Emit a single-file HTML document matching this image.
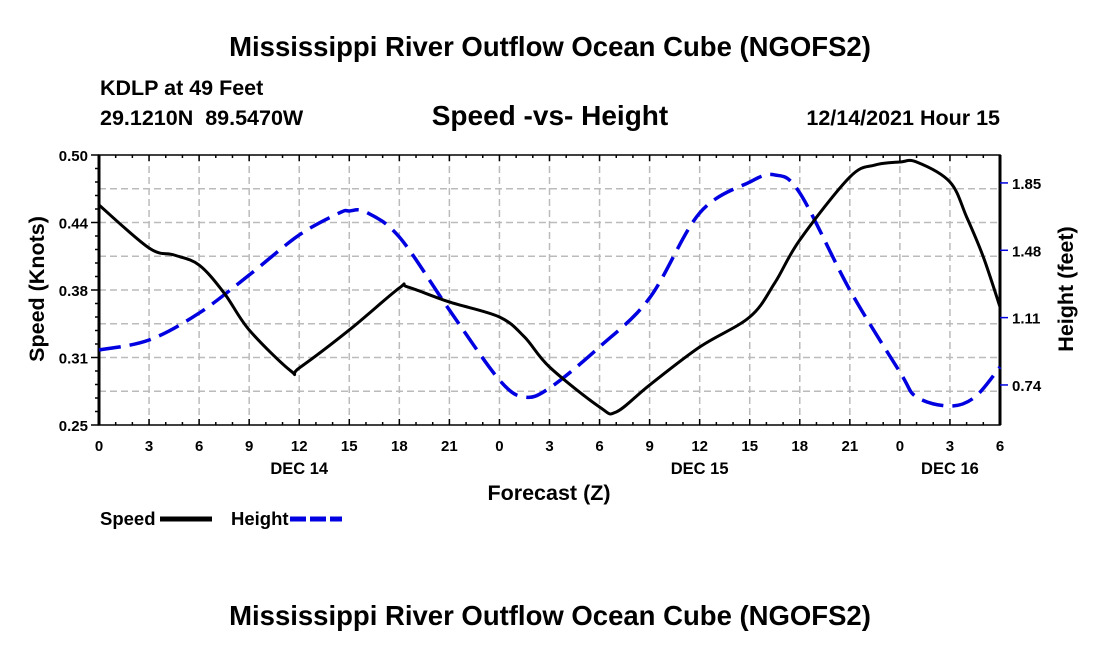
<!DOCTYPE html>
<html><head><meta charset="utf-8"><style>
body{margin:0;background:#fff;width:1100px;height:650px;overflow:hidden}
svg text{font-family:"Liberation Sans",Arial,sans-serif;font-weight:bold;white-space:pre}
</style></head><body>
<svg id="c" width="1100" height="650">
<text x="550" y="56" font-size="27.5" text-anchor="middle">Mississippi River Outflow Ocean Cube (NGOFS2)</text>
<text x="100" y="95" font-size="21.5">KDLP at 49 Feet</text>
<text x="100" y="125" font-size="21.5" xml:space="preserve">29.1210N  89.5470W</text>
<text x="550" y="125" font-size="28" text-anchor="middle">Speed -vs- Height</text>
<text x="1000" y="125" font-size="21.5" text-anchor="end">12/14/2021 Hour 15</text>
<g id="grid"></g>
<g id="axes"></g>
<g id="series"></g>
<text x="549" y="500" font-size="21.5" text-anchor="middle">Forecast (Z)</text>
<text transform="translate(44,289) rotate(-90)" font-size="21.5" text-anchor="middle">Speed (Knots)</text>
<text transform="translate(1073,289) rotate(-90)" font-size="21.5" text-anchor="middle">Height (feet)</text>
<g>
<text x="100" y="525" font-size="18.5">Speed</text>
<line x1="160" y1="519" x2="212" y2="519" stroke="#000" stroke-width="5"/>
<text x="231" y="525" font-size="18.5">Height</text>
<line x1="290" y1="519" x2="342" y2="519" stroke="#0000e0" stroke-width="5" stroke-dasharray="16,4"/>
</g>
<text x="550" y="625" font-size="27.5" text-anchor="middle">Mississippi River Outflow Ocean Cube (NGOFS2)</text>
</svg>
<script>
const speedHours=[0,3,4.5,6,7.5,9,11.5,12,15,18,18.5,21,24,25.5,27,30,31,33,36,39,40.5,42,45,46.5,48,49,51,52,53,54];
const speedVals=[0.4537,0.4139,0.4074,0.3981,0.3722,0.338,0.300,0.3028,0.338,0.3769,0.3778,0.3639,0.35,0.3315,0.3037,0.2667,0.262,0.287,0.3222,0.35,0.3815,0.4213,0.4796,0.4907,0.4935,0.4935,0.475,0.4426,0.4056,0.3593];
const heightHours=[0,3,6,9,12,14.4,15,16,18,21,24,25.5,27,30,33,36,39,40.5,42,45,48,49,51,52.5,54];
const heightVals=[0.932,0.987,1.135,1.344,1.564,1.685,1.696,1.69,1.553,1.152,0.767,0.674,0.723,0.949,1.218,1.685,1.855,1.894,1.795,1.262,0.811,0.674,0.624,0.674,0.839];
const xTickLabels=["0","3","6","9","12","15","18","21","0","3","6","9","12","15","18","21","0","3","6"];
const dayLabels=["DEC 14","DEC 15","DEC 16"];
const dayHours=[12,36,51];
const leftTicks=["0.25","0.31","0.38","0.44","0.50"];
const rightTicks=["0.74","1.11","1.48","1.85"];
const L=99,R=1000,T=155,B=425;
const sx=h=>L+h*(R-L)/54;
const sy=v=>B-(v-0.25)*(B-T)/0.25;
const hy=v=>B-(v-0.52)*182;
const NS="http://www.w3.org/2000/svg";
function mk(t,a,p){const e=document.createElementNS(NS,t);for(const k in a)e.setAttribute(k,a[k]);p.appendChild(e);return e;}
const grid=document.getElementById('grid'),axes=document.getElementById('axes'),ser=document.getElementById('series');
for(let i=1;i<18;i++){const g=mk('line',{x1:sx(i*3),x2:sx(i*3),y1:T,y2:B,stroke:'#bbb','stroke-width':1.5,'stroke-dasharray':'7,4'},grid);

}
for(let i=1;i<8;i++){const v=0.25+i*0.03125;const g=mk('line',{x1:L,x2:R,y1:sy(v),y2:sy(v),stroke:'#bbb','stroke-width':1.5,'stroke-dasharray':'7,4'},grid);

}
const fr=mk('rect',{x:L,y:T,width:R-L,height:B-T,fill:'none',stroke:'#000','stroke-width':1.5},axes);


mk('line',{x1:L,x2:L,y1:T,y2:B,stroke:'#000','stroke-width':3},axes);
mk('line',{x1:R,x2:R,y1:T,y2:B,stroke:'#000','stroke-width':3},axes);
for(let h=0;h<=54;h++){const len=h%3==0?6:3;
mk('line',{x1:sx(h),x2:sx(h),y1:B,y2:B-len,stroke:'#000','stroke-width':1.5},axes);
mk('line',{x1:sx(h),x2:sx(h),y1:T,y2:T+len,stroke:'#000','stroke-width':1.5},axes);}
xTickLabels.forEach((s,i)=>{const t=mk('text',{x:sx(i*3),y:451,'font-size':15,'text-anchor':'middle'},axes);t.textContent=s;

});
dayLabels.forEach((s,i)=>{const t=mk('text',{x:sx(dayHours[i]),y:474,'font-size':16.5,'text-anchor':'middle'},axes);t.textContent=s;

});
for(let i=0;i<=20;i++){const v=0.25+i*0.0125;mk('line',{x1:L-(i%5==0?8:4),x2:L,y1:sy(v),y2:sy(v),stroke:'#000','stroke-width':1.5},axes);}
leftTicks.forEach((s,i)=>{const t=mk('text',{x:88,y:sy(0.25+i*0.0625)+6,'font-size':15,'text-anchor':'end'},axes);t.textContent=s;

});
rightTicks.forEach(s=>{const v=parseFloat(s);mk('line',{x1:R,x2:R+8,y1:hy(v),y2:hy(v),stroke:'#0000e0','stroke-width':1.5},axes);
const t=mk('text',{x:1012,y:hy(v)+6,'font-size':15},axes);t.textContent=s;

});
function path(xs,ys){const p=xs.map((x,i)=>[x,ys[i]]);let d='M'+p[0][0]+','+p[0][1];
for(let i=0;i<p.length-1;i++){const p0=p[i-1]||p[i],p1=p[i],p2=p[i+1],p3=p[i+2]||p2;
const c1=[p1[0]+(p2[0]-p0[0])/6,p1[1]+(p2[1]-p0[1])/6],c2=[p2[0]-(p3[0]-p1[0])/6,p2[1]-(p3[1]-p1[1])/6];
d+=` C${c1[0]},${c1[1]} ${c2[0]},${c2[1]} ${p2[0]},${p2[1]}`;}return d;}
const hp=mk('path',{d:path(heightHours.map(sx),heightVals.map(hy)),fill:'none',stroke:'#0000e0','stroke-width':3.5,'stroke-dasharray':'22,9'},ser);


const sp=mk('path',{d:path(speedHours.map(sx),speedVals.map(sy)),fill:'none',stroke:'#000','stroke-width':3},ser);


</script>
</body></html>
